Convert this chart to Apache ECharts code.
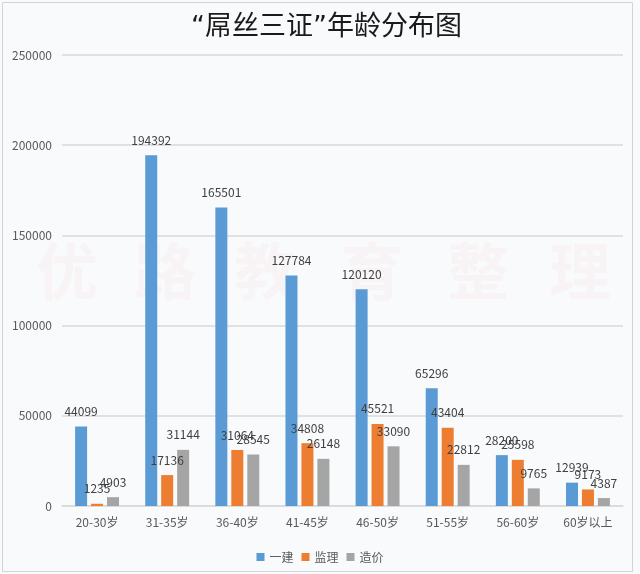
<!DOCTYPE html>
<html>
<head>
<meta charset="utf-8">
<script src="https://cdn.jsdelivr.net/npm/echarts@6/dist/echarts.min.js"></script>
<style>
html,body{margin:0;padding:0;background:#f9fafc;}
#main{width:640px;height:574px;}
</style>
</head>
<body>
<div id="main"></div>
<script>
const categories = ['20-30岁','31-35岁','36-40岁','41-45岁','46-50岁','51-55岁','56-60岁','60岁以上'];
const yijian = [44099,194392,165501,127784,120120,65296,28200,12939];
const jianli = [1235,17136,31064,34808,45521,43404,25598,9173];
const zaojia = [4903,31144,28545,26148,33090,22812,9765,4387];
const seriesNames = ['一建','监理','造价'];
const watermarkChars = ['优','路','教','育','整','理'];

const FONT = '"Noto Sans CJK SC", "Noto Sans", sans-serif';
const chart = echarts.init(document.getElementById('main'), null, {renderer:'canvas'});

const wmX = [67,165,265,372,478,580];
const graphics = [{
  type:'rect', left:2, top:2, z:-10,
  shape:{x:0,y:0,width:630,height:569},
  style:{fill:'#f9fafc', stroke:'#d4d4d4', lineWidth:1}
}];
watermarkChars.forEach((c,i)=>{
  graphics.push({
    type:'text', z:-5, x:wmX[i], y:271,
    style:{text:c, font:'bold 62px "Noto Sans CJK SC"', fill:'rgba(230,120,120,0.045)', textAlign:'center', textVerticalAlign:'middle'}
  });
});

const labelStyle = {show:true, position:'top', distance:9, color:'#404040', fontSize:12, fontFamily:FONT};
const colors = ['#5b9bd5','#ed7d31','#a5a5a5'];
const dataSets = [yijian, jianli, zaojia];

chart.setOption({
  backgroundColor:'#f9fafc',
  animation:false,
  textStyle:{fontFamily:FONT},
  title:{
    text:'“屌丝三证”年龄分布图', left:186, top:9,
    textStyle:{fontSize:27, fontWeight:'normal', color:'#1a1a1a', fontFamily:'"DejaVu Sans", "Noto Sans CJK SC", sans-serif'}
  },
  graphic:graphics,
  legend:{
    bottom:6, left:'center', itemWidth:8, itemHeight:8, itemGap:8,
    icon:'rect',
    textStyle:{color:'#595959', fontSize:12, fontFamily:FONT},
    data:seriesNames
  },
  grid:{left:62, right:17, top:55, bottom:68},
  xAxis:{
    type:'category', data:categories,
    axisLine:{lineStyle:{color:'#d9d9d9', width:1.5}},
    axisTick:{show:false},
    axisLabel:{color:'#595959', fontSize:12, margin:10, fontFamily:FONT}
  },
  yAxis:{
    type:'value', min:0, max:250000, interval:50000,
    axisLine:{show:false}, axisTick:{show:false},
    axisLabel:{color:'#595959', fontSize:12, margin:10, fontFamily:FONT, formatter:(v)=>String(v)},
    splitLine:{lineStyle:{color:'#d9d9d9', width:1.5}}
  },
  series: dataSets.map((d,i)=>({
    name:seriesNames[i], type:'bar', data:d,
    barWidth:12, barGap:'33%',
    itemStyle:{color:colors[i]},
    label:labelStyle
  }))
});
</script>
</body>
</html>
